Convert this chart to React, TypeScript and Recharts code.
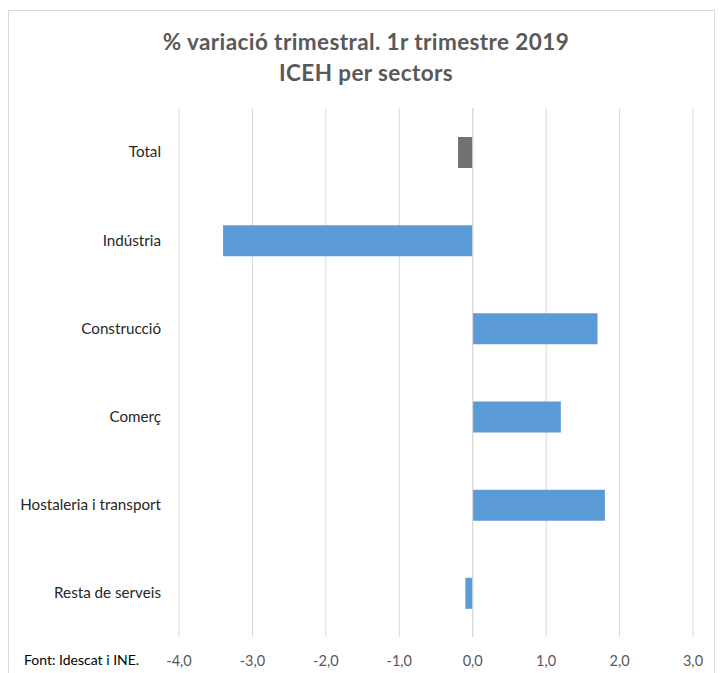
import React from 'react';
import { BarChart, Bar, XAxis, YAxis, CartesianGrid, Cell, ReferenceLine } from 'recharts';

const sectors = ['Total', 'Indústria', 'Construcció', 'Comerç', 'Hostaleria i transport', 'Resta de serveis'];
const variation = [-0.2, -3.4, 1.7, 1.2, 1.8, -0.1];
const xTicks = [-4, -3, -2, -1, 0, 1, 2, 3];

const data = sectors.map((name, i) => ({ name, value: variation[i] }));

const FONT = 'Lato, "Open Sans", sans-serif';

const App: React.FC = () => {
  return (
    <div style={{ position: 'absolute', left: 0, top: 0, width: 721, height: 673, background: '#fff', fontFamily: FONT }}>
      {/* marc del gràfic */}
      <div style={{ position: 'absolute', left: 8, top: 10, width: 705, height: 680, border: '1px solid #d9d9d9' }} />
      <div style={{ position: 'absolute', left: 0, top: 26, width: 732, textAlign: 'center', color: '#595959', fontWeight: 700, fontSize: 22.5, lineHeight: '31px', letterSpacing: 0.4 }}>
        <div>% variació trimestral. 1r trimestre 2019</div>
        <div>ICEH per sectors</div>
      </div>
      <div style={{ position: 'absolute', left: 24, top: 651, fontSize: 14, color: '#000' }}>Font: Idescat i INE.</div>
      <div style={{ position: 'absolute', left: 0, top: 0 }}>
        <BarChart
          width={721}
          height={673}
          data={data}
          layout="vertical"
          margin={{ top: 108, right: 28, bottom: 6, left: 19 }}
          barCategoryGap="35%"
        >
          <CartesianGrid horizontal={false} stroke="#d9d9d9" strokeWidth={1} />
          <XAxis
            type="number"
            domain={[-4, 3]}
            ticks={xTicks}
            axisLine={false}
            tickLine={false}
            height={30}
            tickMargin={13}
            tickFormatter={(v: number) => v.toFixed(1).replace('.', ',')}
            tick={{ fontSize: 14.5, fill: '#595959', fontFamily: FONT }}
          />
          <YAxis
            type="category"
            dataKey="name"
            width={160}
            axisLine={false}
            tickLine={false}
            tickMargin={12}
            tick={{ fontSize: 15.2, fill: '#262626', fontFamily: FONT }}
          />
          <ReferenceLine x={0} stroke="#d9d9d9" />
          <Bar dataKey="value" barSize={31} isAnimationActive={false}>
            {data.map((d) => (
              <Cell key={d.name} fill={d.name === 'Total' ? '#767171' : '#5b9bd5'} />
            ))}
          </Bar>
        </BarChart>
      </div>
    </div>
  );
};

export default App;
